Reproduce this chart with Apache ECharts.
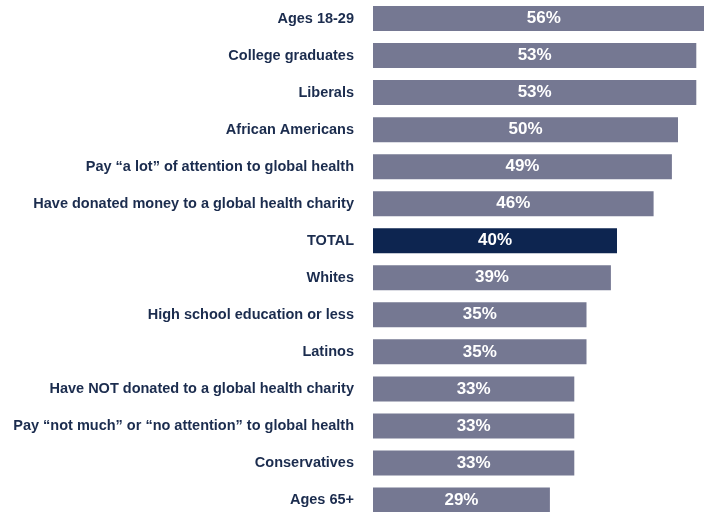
<!DOCTYPE html>
<html>
<head>
<meta charset="utf-8">
<script src="https://cdn.jsdelivr.net/npm/echarts@6/dist/echarts.min.js"></script>
<style>
  html, body { margin: 0; padding: 0; background: #fff; overflow: hidden; }
  /* the original slide crops the longest bar and the last row, so the canvas runs past the window */
  #chart { width: 740px; height: 519px; }
</style>
</head>
<body>
<div id="chart"></div>
<script>
  // groups, top to bottom
  const groups = [
    'Ages 18-29',
    'College graduates',
    'Liberals',
    'African Americans',
    'Pay \u201ca lot\u201d of attention to global health',
    'Have donated money to a global health charity',
    'TOTAL',
    'Whites',
    'High school education or less',
    'Latinos',
    'Have NOT donated to a global health charity',
    'Pay \u201cnot much\u201d or \u201cno attention\u201d to global health',
    'Conservatives',
    'Ages 65+'
  ];
  const shares = [56, 53, 53, 50, 49, 46, 40, 39, 35, 35, 33, 33, 33, 29];
  const totalLabel = 'TOTAL';

  const chart = echarts.init(document.getElementById('chart'));
  chart.setOption({
    animation: false,
    grid: {
      left: 373,
      top: 0,
      width: 366,
      height: 518.5,
      containLabel: false
    },
    xAxis: {
      type: 'value',
      min: 0,
      max: 60,
      show: false
    },
    yAxis: {
      type: 'category',
      inverse: true,
      data: groups,
      axisLine: { show: false },
      axisTick: { show: false },
      axisLabel: {
        margin: 19,
        color: '#1b2c4e',
        fontFamily: 'Liberation Sans, Arial, sans-serif',
        fontWeight: 'bold',
        fontSize: 14.5
      }
    },
    series: [{
      type: 'bar',
      barWidth: 25,
      data: shares.map((v, i) => ({
        value: v,
        itemStyle: { color: groups[i] === totalLabel ? '#0d2550' : '#757892' }
      })),
      label: {
        show: true,
        position: 'inside',
        formatter: '{c}%',
        color: '#fff',
        fontFamily: 'Liberation Sans, Arial, sans-serif',
        fontWeight: 'bold',
        fontSize: 17,
        letterSpacing: 1,
        textBorderWidth: 0
      }
    }]
  });
</script>
</body>
</html>
